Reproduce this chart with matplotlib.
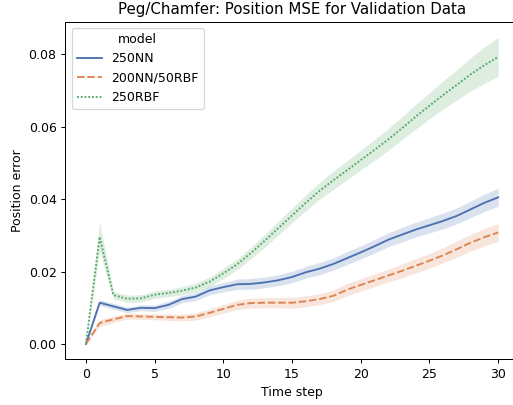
import numpy as np
import matplotlib
matplotlib.use("Agg")
import matplotlib.pyplot as plt

steps = list(range(31))
models = ["250NN", "200NN/50RBF", "250RBF"]

mean_nn = [0.0, 0.0114, 0.0104, 0.0094, 0.0100, 0.0099, 0.0108, 0.0124, 0.0131, 0.0148,
           0.0157, 0.0165, 0.0166, 0.0170, 0.0176, 0.0185, 0.0198, 0.0208, 0.0221, 0.0237,
           0.0253, 0.0270, 0.0288, 0.0302, 0.0316, 0.0328, 0.0340, 0.0354, 0.0372, 0.0390, 0.0405]
half_nn = [0.0, 0.0008, 0.0008, 0.0008, 0.0008, 0.0009, 0.0010, 0.0010, 0.0011, 0.0012,
           0.0013, 0.0014, 0.0015, 0.0015, 0.0015, 0.0016, 0.0016, 0.0017, 0.0017, 0.0018,
           0.0018, 0.0019, 0.0019, 0.0020, 0.0020, 0.0021, 0.0022, 0.0022, 0.0023, 0.0024, 0.0025]

mean_mix = [0.0, 0.0058, 0.0068, 0.0077, 0.0076, 0.0075, 0.0074, 0.0073, 0.0076, 0.0086,
            0.0097, 0.0108, 0.0113, 0.0114, 0.0114, 0.0114, 0.0118, 0.0124, 0.0133, 0.0150,
            0.0163, 0.0176, 0.0189, 0.0202, 0.0216, 0.0230, 0.0245, 0.0262, 0.0280, 0.0295, 0.0308]
half_mix = [0.0, 0.0010, 0.0009, 0.0008, 0.0008, 0.0008, 0.0009, 0.0009, 0.0010, 0.0011,
            0.0012, 0.0013, 0.0014, 0.0014, 0.0014, 0.0015, 0.0015, 0.0015, 0.0016, 0.0017,
            0.0017, 0.0018, 0.0018, 0.0019, 0.0020, 0.0020, 0.0021, 0.0022, 0.0023, 0.0024, 0.0025]

mean_rbf = [0.0, 0.0296, 0.0135, 0.0125, 0.0126, 0.0136, 0.0141, 0.0147, 0.0156, 0.0172,
            0.0195, 0.0220, 0.0251, 0.0285, 0.0320, 0.0355, 0.0390, 0.0423, 0.0452, 0.0480,
            0.0508, 0.0536, 0.0565, 0.0596, 0.0628, 0.0658, 0.0688, 0.0716, 0.0745, 0.0770, 0.0793]
half_rbf = [0.0, 0.0040, 0.0010, 0.0010, 0.0010, 0.0010, 0.0010, 0.0011, 0.0012, 0.0013,
            0.0014, 0.0015, 0.0016, 0.0018, 0.0019, 0.0020, 0.0022, 0.0023, 0.0025, 0.0026,
            0.0027, 0.0029, 0.0030, 0.0032, 0.0034, 0.0036, 0.0039, 0.0042, 0.0046, 0.0050, 0.0054]

colors = ["#4C72B0", "#DD8452", "#55A868"]
dashes = [None, (4, 1.5), (1, 1)]

fig = plt.figure(figsize=(513 / 90, 405 / 90), dpi=90)
ax = fig.add_axes([0.1273, 0.1128, 0.884, 0.8329])

x = np.array(steps)
for name, m, h, c, d in zip(models, [mean_nn, mean_mix, mean_rbf],
                            [half_nn, half_mix, half_rbf], colors, dashes):
    m = np.array(m); h = np.array(h)
    ax.fill_between(x, m - h, m + h, color=c, alpha=0.2, linewidth=0)
    line, = ax.plot(x, m, color=c, lw=1.5, label=name)
    if d is not None:
        line.set_dashes(d)

ax.set_xticks([0, 5, 10, 15, 20, 25, 30])
ax.set_yticks([0.0, 0.02, 0.04, 0.06, 0.08])
ax.yaxis.set_major_formatter(matplotlib.ticker.FormatStrFormatter("%.2f"))
ax.set_xlabel("Time step")
ax.set_ylabel("Position error")
ax.set_title("Peg/Chamfer: Position MSE for Validation Data")
ax.legend(title="model", loc="upper left")

fig.savefig("out.png", dpi=90)
